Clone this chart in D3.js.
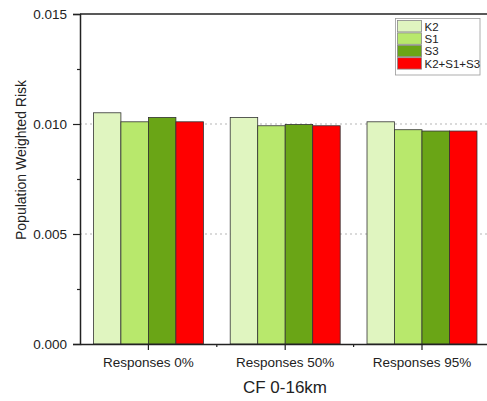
<!DOCTYPE html>
<html>
<head>
<meta charset="utf-8">
<script src="https://cdn.jsdelivr.net/npm/d3@7"></script>
<style>
  body { margin: 0; background: #fff; }
  text { font-family: "Liberation Sans", Arial, sans-serif; fill: #222; }
</style>
</head>
<body>
<svg id="chart" width="487" height="401"></svg>
<script>
const categories = ["Responses 0%", "Responses 50%", "Responses 95%"];
const series = ["K2", "S1", "S3", "K2+S1+S3"];
const colors = ["#e0f5c0", "#b8e86c", "#6aa516", "#ff0000"];
const valuesK2 = [0.01051, 0.01030, 0.01010];
const valuesS1 = [0.01010, 0.00992, 0.00974];
const valuesS3 = [0.01030, 0.00998, 0.00968];
const valuesAll = [0.01010, 0.00992, 0.00968];
const yTicks = [0, 0.005, 0.010, 0.015];
const gridTicks = [0.005, 0.010];

const seriesValues = [valuesK2, valuesS1, valuesS3, valuesAll];

const margin = { left: 80, top: 14, bottom: 57 };
const plotRight = 490.4;
const height = 401;

const svg = d3.select("#chart");

const x0 = d3.scaleBand()
  .domain(categories)
  .range([margin.left, plotRight]);

const x1 = d3.scaleBand()
  .domain(series)
  .range([x0.bandwidth() * 0.098, x0.bandwidth() * 0.902]);

const y = d3.scaleLinear()
  .domain([0, 0.015])
  .range([height - margin.bottom, margin.top]);

// grid
svg.append("g")
  .selectAll("line")
  .data(gridTicks)
  .join("line")
  .attr("x1", margin.left)
  .attr("x2", 487)
  .attr("y1", (d) => y(d))
  .attr("y2", (d) => y(d))
  .attr("stroke", "#b5b5b5")
  .attr("stroke-dasharray", "2,3");

// bars
const groups = svg.append("g")
  .selectAll("g")
  .data(categories)
  .join("g")
  .attr("transform", (d) => `translate(${x0(d)},0)`);

groups.selectAll("rect")
  .data((c, i) => series.map((s, j) => ({ s, j, v: seriesValues[j][i] })))
  .join("rect")
  .attr("x", (d) => x1(d.s))
  .attr("width", x1.bandwidth())
  .attr("y", (d) => y(d.v))
  .attr("height", (d) => y(0) - y(d.v))
  .attr("fill", (d) => colors[d.j])
  .attr("stroke", "#333")
  .attr("stroke-width", 0.8);

// top frame
svg.append("line")
  .attr("x1", margin.left).attr("x2", 487)
  .attr("y1", y(0.015)).attr("y2", y(0.015))
  .attr("stroke", "#222").attr("stroke-width", 1.3);

// y axis
const yAxis = svg.append("g")
  .attr("transform", `translate(${margin.left},0)`)
  .call(d3.axisLeft(y).tickValues(yTicks).tickFormat(d3.format(".3f")).tickSize(7).tickPadding(6));
yAxis.select(".domain").attr("stroke", "#222").attr("stroke-width", 1.5);
yAxis.selectAll(".tick line").attr("stroke", "#222").attr("stroke-width", 1.2);
yAxis.selectAll("text").style("font-size", "13.5px").attr("fill", "#222");

svg.append("g")
  .attr("transform", `translate(${margin.left},0)`)
  .call(d3.axisLeft(y).tickValues([0.0025, 0.0075, 0.0125]).tickFormat("").tickSize(3))
  .call((g) => g.select(".domain").remove())
  .selectAll("line").attr("stroke", "#222").attr("stroke-width", 1.2);

// x axis
const xAxis = svg.append("g")
  .attr("transform", `translate(0,${y(0)})`)
  .call(d3.axisBottom(x0).tickSize(6).tickPadding(7).tickSizeOuter(0));
xAxis.select(".domain").attr("stroke", "#222").attr("stroke-width", 1.5);
xAxis.selectAll(".tick line").attr("stroke", "#222").attr("stroke-width", 1.2);
xAxis.selectAll("text").style("font-size", "13.5px").attr("fill", "#222");

svg.append("g")
  .selectAll("line")
  .data(categories.slice(1))
  .join("line")
  .attr("x1", (d) => x0(d)).attr("x2", (d) => x0(d))
  .attr("y1", y(0)).attr("y2", y(0) + 3)
  .attr("stroke", "#222").attr("stroke-width", 1.2);

// axis titles
svg.append("text")
  .attr("transform", "translate(26,160) rotate(-90)")
  .attr("text-anchor", "middle")
  .style("font-size", "14px")
  .text("Population Weighted Risk");

svg.append("text")
  .attr("x", 285)
  .attr("y", 393)
  .attr("text-anchor", "middle")
  .style("font-size", "17px")
  .text("CF 0-16km");

// legend
const legend = svg.append("g").attr("transform", "translate(395.5,18.5)");
legend.append("rect")
  .attr("width", 84.5).attr("height", 56.5)
  .attr("fill", "#fff").attr("stroke", "#999").attr("stroke-width", 0.8);

const items = legend.selectAll("g")
  .data(series)
  .join("g")
  .attr("transform", (d, i) => `translate(2,${2 + i * 12.4})`);

items.append("rect")
  .attr("width", 24).attr("height", 11.4)
  .attr("fill", (d, i) => colors[i])
  .attr("stroke", "#888").attr("stroke-width", 0.8);

items.append("text")
  .attr("x", 27).attr("y", 10)
  .style("font-size", "11.5px")
  .text((d) => d);
</script>
</body>
</html>
